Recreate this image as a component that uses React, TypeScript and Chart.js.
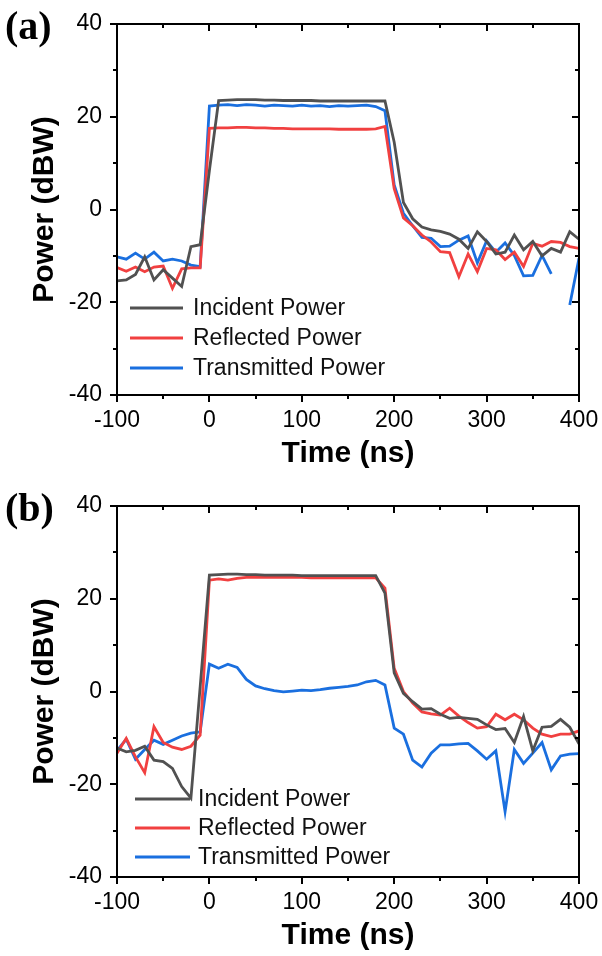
import React, { useEffect, useRef } from 'react';
import { Chart, registerables } from 'chart.js';
Chart.register(...registerables);

// ---------- data ----------
const timeNs = [
  -100, -90, -80, -70, -60, -50, -40, -30, -20, -10,
  0, 10, 20, 30, 40, 50, 60, 70, 80, 90,
  100, 110, 120, 130, 140, 150, 160, 170, 180, 190,
  200, 210, 220, 230, 240, 250, 260, 270, 280, 290,
  300, 310, 320, 330, 340, 350, 360, 370, 380, 390,
  400,
];

const incidentA = [
  -15.4, -15.2, -14.0, -10.2, -15.2, -13.0, -14.8, -16.6, -8.0, -7.6,
  8.4, 23.5, 23.6, 23.7, 23.7, 23.7, 23.6, 23.6, 23.5, 23.5,
  23.5, 23.5, 23.4, 23.4, 23.4, 23.4, 23.4, 23.4, 23.4, 23.4,
  14.5, 1.5, -2.0, -3.8, -4.4, -4.7, -5.3, -6.4, -8.4, -4.8,
  -6.9, -9.6, -9.2, -5.5, -8.7, -6.9, -10.0, -8.4, -9.2, -4.8,
  -6.4,
];
const reflectedA = [
  -12.5, -13.3, -12.4, -13.4, -12.4, -12.2, -17.0, -12.8, -12.6, -12.6,
  17.5, 17.6, 17.6, 17.7, 17.7, 17.6, 17.6, 17.5, 17.5, 17.4,
  17.4, 17.4, 17.4, 17.4, 17.3, 17.3, 17.3, 17.3, 17.4, 17.9,
  4.5, -1.8, -3.5, -5.5, -7.0, -9.1, -9.3, -14.5, -9.6, -13.4,
  -8.4, -8.7, -10.8, -9.2, -12.3, -7.3, -7.9, -6.9, -7.1, -8.0,
  -8.4,
];
const transmittedA = [
  -10.2, -10.7, -9.4, -10.7, -9.2, -11.1, -10.7, -11.1, -12.0, -12.3,
  22.3, 22.5, 22.6, 22.4, 22.6, 22.5, 22.3, 22.5, 22.4, 22.3,
  22.5, 22.3, 22.4, 22.2, 22.4, 22.3, 22.4, 22.5, 22.2, 21.3,
  5.3, -0.8, -3.5, -6.0, -6.2, -8.0, -7.9, -6.6, -5.7, -11.5,
  -6.8, -9.2, -7.2, -9.9, -14.3, -14.2, -9.9, -13.9, null, -20.6,
  -10.5,
];

const incidentB = [
  -12.2, -13.0, -12.7, -11.8, -14.8, -15.1, -16.6, -20.5, -23.0, 1.0,
  25.1, 25.2, 25.3, 25.3, 25.2, 25.2, 25.1, 25.1, 25.1, 25.1,
  25.0, 25.0, 25.0, 25.0, 25.0, 25.0, 25.0, 25.0, 25.0, 21.2,
  4.0, -0.4, -2.2, -3.8, -3.7, -4.9, -5.8, -5.6, -5.8, -6.0,
  -7.2, -8.2, -8.0, -11.0, -5.4, -12.8, -7.7, -7.5, -6.0, -7.7,
  -11.3,
];
const reflectedB = [
  -13.3, -10.1, -14.1, -17.5, -7.6, -11.0, -12.0, -12.5, -11.8, -9.4,
  24.0, 24.3, 24.0, 24.4, 24.6, 24.6, 24.6, 24.6, 24.6, 24.6,
  24.6, 24.5, 24.5, 24.5, 24.5, 24.5, 24.5, 24.5, 24.5, 22.3,
  5.0, 0.0, -2.5, -4.4, -4.8, -5.1, -3.6, -5.3, -6.7, -7.9,
  -7.6, -4.9, -6.1, -4.9, -6.1, -7.9, -9.2, -9.7, -9.2, -9.2,
  -8.5,
];
const transmittedB = [
  -12.7, -10.3, -14.6, -12.5, -10.5, -11.4, -10.5, -9.6, -9.0, -8.7,
  5.9, 5.0, 5.9, 5.2, 2.6, 1.2, 0.6, 0.2, -0.1, 0.1,
  0.3, 0.2, 0.4, 0.7, 0.9, 1.1, 1.4, 2.1, 2.4, 1.4,
  -7.9, -9.2, -14.8, -16.3, -13.3, -11.5, -11.5, -11.3, -11.2, -12.8,
  -14.6, -12.8, -25.9, -12.5, -15.5, -13.3, -11.0, -16.9, -13.9, -13.5,
  -13.4,
];

const seriesLabels = ['Incident Power', 'Reflected Power', 'Transmitted Power'];
const seriesColors = ['#515151', '#F14040', '#1A6FDF'];
const xMajorTicks = [-100, 0, 100, 200, 300, 400];
const xMinorTicks = [-50, 50, 150, 250, 350];
const yMajorTicks = [-40, -20, 0, 20, 40];
const yMinorTicks = [-30, -10, 10, 30];
const xTitle = 'Time (ns)';
const yTitle = 'Power (dBW)';

// ---------- styling ----------
const SANS = '"Liberation Sans", Arial, sans-serif';
const W = 602;
const H = 478;

const framePlugin = {
  id: 'frameTicks',
  afterDraw(chart: any) {
    const { ctx, chartArea, scales } = chart;
    const { left, right, top, bottom } = chartArea;
    const x = scales.x;
    const y = scales.y;
    ctx.save();
    ctx.strokeStyle = '#000';
    ctx.lineWidth = 2;
    ctx.lineCap = 'butt';
    ctx.strokeRect(left, top, right - left, bottom - top);
    const line = (x1: number, y1: number, x2: number, y2: number) => {
      ctx.beginPath();
      ctx.moveTo(x1, y1);
      ctx.lineTo(x2, y2);
      ctx.stroke();
    };
    const xt = [...xMajorTicks.map((v) => [v, 7]), ...xMinorTicks.map((v) => [v, 4])];
    xt.forEach(([v, len]) => {
      const px = Math.round(x.getPixelForValue(v));
      line(px, bottom, px, bottom + len);
      line(px, top, px, top + len);
    });
    const yt = [...yMajorTicks.map((v) => [v, 7]), ...yMinorTicks.map((v) => [v, 4])];
    yt.forEach(([v, len]) => {
      const py = Math.round(y.getPixelForValue(v));
      line(left - len, py, left, py);
      line(right - len, py, right, py);
    });
    ctx.restore();
  },
};

const legendPlugin = {
  id: 'seriesLegend',
  afterDraw(chart: any, _args: any, opts: any) {
    const { ctx, chartArea } = chart;
    ctx.save();
    ctx.font = `23px ${SANS}`;
    ctx.textBaseline = 'middle';
    ctx.textAlign = 'left';
    chart.data.datasets.forEach((ds: any, i: number) => {
      const yy = chartArea.top + opts.rowTop + i * opts.rowGap;
      ctx.strokeStyle = ds.borderColor;
      ctx.lineWidth = 2.8;
      ctx.beginPath();
      ctx.moveTo(chartArea.left + opts.lineStart, yy);
      ctx.lineTo(chartArea.left + opts.lineEnd, yy);
      ctx.stroke();
      ctx.fillStyle = '#111';
      ctx.fillText(ds.label, chartArea.left + opts.textStart, yy + 1);
    });
    ctx.restore();
  },
};

type PanelProps = {
  top: number;
  padTop: number;
  axisH: number;
  titlePad: number;
  series: (number | null)[][];
  legend: { rowTop: number; rowGap: number; lineStart: number; lineEnd: number; textStart: number };
};

function Panel({ top, padTop, axisH, titlePad, series, legend }: PanelProps) {
  const ref = useRef<HTMLCanvasElement>(null);
  useEffect(() => {
    if (!ref.current) return;
    const chart = new Chart(ref.current, {
      type: 'line',
      data: {
        datasets: series.map((s, i) => ({
          label: seriesLabels[i],
          data: timeNs.map((t, j) => ({ x: t, y: s[j] })),
          borderColor: seriesColors[i],
          backgroundColor: seriesColors[i],
          borderWidth: 2.8,
          pointRadius: 0,
          tension: 0,
          fill: false,
          spanGaps: false,
        })),
      },
      options: {
        responsive: false,
        animation: false,
        devicePixelRatio: 1,
        layout: { padding: { left: 0, right: 23, top: padTop, bottom: 0 } },
        plugins: {
          legend: { display: false },
          tooltip: { enabled: false },
          seriesLegend: legend,
        } as any,
        scales: {
          x: {
            type: 'linear',
            min: -100,
            max: 400,
            afterBuildTicks: (s: any) => {
              s.ticks = xMajorTicks.map((v) => ({ value: v }));
            },
            afterFit: (s: any) => {
              s.height = axisH;
              s.paddingLeft = 0;
              s.paddingRight = 0;
            },
            grid: { display: false, drawTicks: false },
            border: { display: false },
            ticks: {
              padding: 12,
              color: '#000',
              font: { family: SANS, size: 23 },
              maxRotation: 0,
              autoSkip: false,
            },
            title: {
              display: true,
              text: xTitle,
              color: '#000',
              font: { family: SANS, size: 30, weight: 'bold' },
              padding: { top: 0, bottom: titlePad },
            },
          },
          y: {
            type: 'linear',
            min: -40,
            max: 40,
            afterBuildTicks: (s: any) => {
              s.ticks = yMajorTicks.map((v) => ({ value: v }));
            },
            afterFit: (s: any) => {
              s.width = 117;
              s.paddingTop = 0;
              s.paddingBottom = 0;
            },
            grid: { display: false, drawTicks: false },
            border: { display: false },
            ticks: {
              padding: 15,
              color: '#000',
              font: { family: SANS, size: 23 },
              autoSkip: false,
            },
            title: {
              display: true,
              text: yTitle,
              color: '#000',
              font: { family: SANS, size: 30, weight: 'bold' },
              padding: { top: 27, bottom: 0 },
            },
          },
        },
      } as any,
      plugins: [framePlugin, legendPlugin],
    });
    return () => chart.destroy();
  }, []);
  return (
    <canvas
      ref={ref}
      width={W}
      height={H}
      style={{ position: 'absolute', left: 0, top, width: W, height: H, display: 'block' }}
    />
  );
}

const panelTag: React.CSSProperties = {
  position: 'absolute',
  left: 5,
  fontFamily: '"Liberation Serif", "Times New Roman", serif',
  fontWeight: 'bold',
  fontSize: 40,
  lineHeight: '40px',
  color: '#000',
};

export default function App() {
  return (
    <div style={{ position: 'absolute', left: 0, top: 0, width: 602, height: 956, background: '#fff', overflow: 'hidden' }}>
      <Panel
        top={0}
        padTop={24}
        axisH={83}
        titlePad={6}
        series={[incidentA, reflectedA, transmittedA]}
        legend={{ rowTop: 284, rowGap: 30, lineStart: 13, lineEnd: 66, textStart: 76 }}
      />
      <Panel
        top={478}
        padTop={28}
        axisH={79}
        titlePad={2}
        series={[incidentB, reflectedB, transmittedB]}
        legend={{ rowTop: 293, rowGap: 29, lineStart: 18, lineEnd: 73, textStart: 81 }}
      />
      <div style={{ ...panelTag, top: 6 }}>(a)</div>
      <div style={{ ...panelTag, top: 488 }}>(b)</div>
    </div>
  );
}
